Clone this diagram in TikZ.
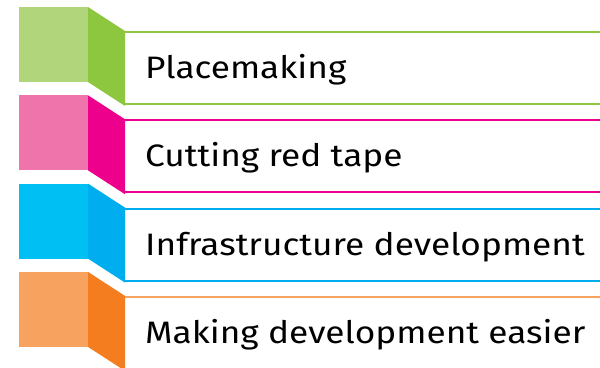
\documentclass[tikz,border=0pt]{standalone}
\usepackage{fontspec}
\setmainfont{Fira Sans}
\definecolor{gL}{HTML}{B1D57A}
\definecolor{gD}{HTML}{8DC63F}
\definecolor{pL}{HTML}{F074AC}
\definecolor{pD}{HTML}{EC008C}
\definecolor{bL}{HTML}{00BFF3}
\definecolor{bD}{HTML}{00AEEF}
\definecolor{oL}{HTML}{F7A25F}
\definecolor{oD}{HTML}{F47D20}
\tikzset{
  label/.style={anchor=base west, inner sep=0pt, font=\fontsize{31}{36}\selectfont, text=black},
  rule/.style={line width=2pt}
}
\begin{document}
\begin{tikzpicture}[x=1pt,y=-1pt]
\useasboundingbox (0,0) rectangle (600,367);
\clip (0,0) rectangle (600,367);
\foreach \i/\lc/\dc/\rc/\txt in {0/gL/gD/gD/Placemaking,1/pL/pD/pD/Cutting red tape,2/bL/bD/bD/Infrastructure development,3/oL/oD/oL/Making development easier}{
  \pgfmathsetmacro{\t}{7+88.3*\i}
  \fill[\lc] (19,\t) rectangle (88,\t+75);
  \fill[\dc] (88,\t) -- (125,\t+24) -- (125,\t+99) -- (88,\t+75) -- cycle;
  \draw[rule,\rc] (125,\t+25) -- (600,\t+25);
  \draw[rule,\rc] (124,\t+97) -- (600,\t+97);
  \node[label] (t\i) at (145,\t+71.5) {\scalebox{1.137}[1]{\txt}};
}
\end{tikzpicture}
\end{document}
